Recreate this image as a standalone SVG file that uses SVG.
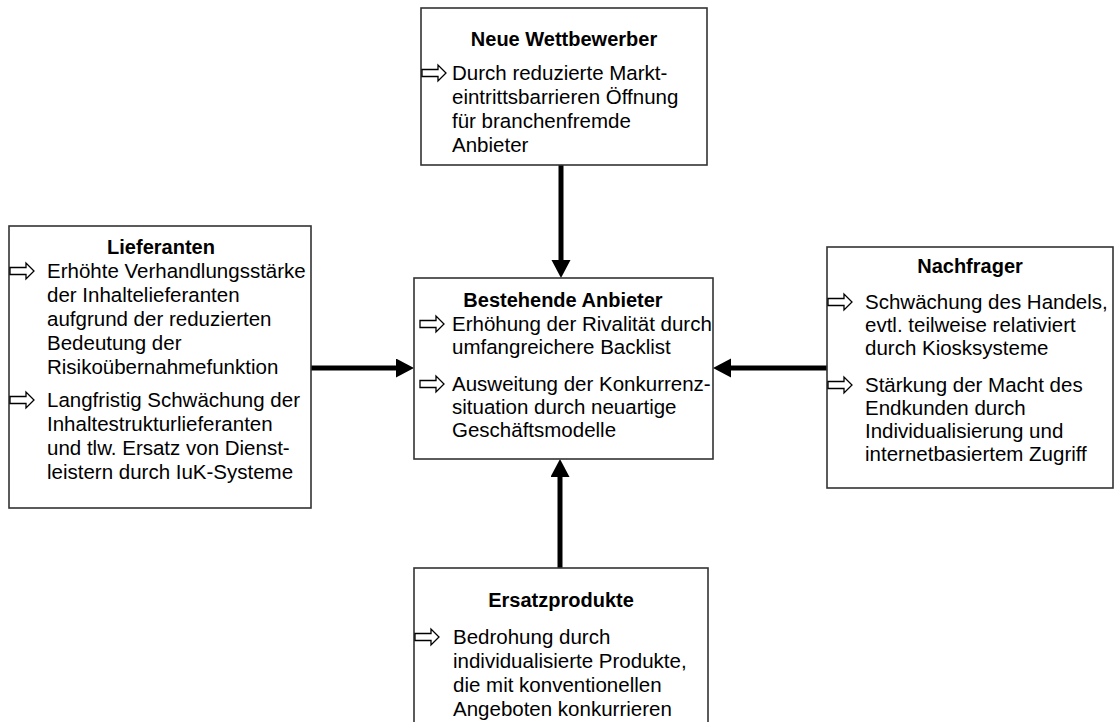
<svg xmlns="http://www.w3.org/2000/svg" xmlns:xlink="http://www.w3.org/1999/xlink" width="1115" height="722" viewBox="0 0 1115 722">
  <style>
    .box { fill: #ffffff; stroke: #333333; stroke-width: 1.6; }
    .title { font-family: "Liberation Sans", Arial, sans-serif; font-size: 20px; font-weight: bold; fill: #000000; text-anchor: middle; }
    .body { font-family: "Liberation Sans", Arial, sans-serif; font-size: 20.5px; fill: #000000; }
    .flow { stroke: #000000; stroke-width: 5; fill: none; marker-end: url(#head); }
  </style>
  <defs>
    <marker id="head" markerUnits="userSpaceOnUse" markerWidth="20" markerHeight="20" refX="0" refY="9.5" orient="auto">
      <path d="M0,0 L18,9.5 L0,19 Z" fill="#000000"/>
    </marker>
    <!-- white block-arrow bullet, origin at its left middle -->
    <symbol id="bullet" overflow="visible">
      <path d="M1,-3.5 H17 V-8 L25,0 L17,8 V3.5 H1 Z" fill="#ffffff" stroke="#000000" stroke-width="1.3" stroke-linejoin="miter"/>
    </symbol>
  </defs>

  <rect width="1115" height="722" fill="#ffffff"/>

  <!-- connectors -->
  <g id="connectors">
    <line class="flow" x1="561" y1="165" x2="561" y2="260"/>
    <line class="flow" x1="311" y1="368" x2="396" y2="368"/>
    <line class="flow" x1="827" y1="368" x2="731" y2="368"/>
    <line class="flow" x1="560" y1="568" x2="560" y2="477"/>
  </g>

  <!-- new competitors -->
  <g id="neue-wettbewerber">
    <rect class="box" x="421" y="8" width="286" height="157"/>
    <text class="title" x="564" y="46">Neue Wettbewerber</text>
    <use xlink:href="#bullet" x="421" y="73"/>
    <text class="body" x="452" y="80">Durch reduzierte Markt-</text>
    <text class="body" x="452" y="104">eintrittsbarrieren Öffnung</text>
    <text class="body" x="452" y="128">für branchenfremde</text>
    <text class="body" x="452" y="152">Anbieter</text>
  </g>

  <!-- suppliers -->
  <g id="lieferanten">
    <rect class="box" x="9" y="226" width="302" height="282"/>
    <text class="title" x="161" y="254">Lieferanten</text>
    <use xlink:href="#bullet" x="9" y="271"/>
    <text class="body" x="47" y="278">Erhöhte Verhandlungsstärke</text>
    <text class="body" x="47" y="302">der Inhaltelieferanten</text>
    <text class="body" x="47" y="326">aufgrund der reduzierten</text>
    <text class="body" x="47" y="350">Bedeutung der</text>
    <text class="body" x="47" y="374">Risikoübernahmefunktion</text>
    <use xlink:href="#bullet" x="9" y="400"/>
    <text class="body" x="47" y="407">Langfristig Schwächung der</text>
    <text class="body" x="47" y="431">Inhaltestrukturlieferanten</text>
    <text class="body" x="47" y="455">und tlw. Ersatz von Dienst-</text>
    <text class="body" x="47" y="479">leistern durch IuK-Systeme</text>
  </g>

  <!-- existing providers -->
  <g id="bestehende-anbieter">
    <rect class="box" x="414" y="278" width="299" height="181"/>
    <text class="title" x="563" y="307">Bestehende Anbieter</text>
    <use xlink:href="#bullet" x="419" y="324"/>
    <text class="body" x="452" y="331">Erhöhung der Rivalität durch</text>
    <text class="body" x="452" y="354">umfangreichere Backlist</text>
    <use xlink:href="#bullet" x="419" y="384"/>
    <text class="body" x="452" y="391">Ausweitung der Konkurrenz-</text>
    <text class="body" x="452" y="414">situation durch neuartige</text>
    <text class="body" x="452" y="437">Geschäftsmodelle</text>
  </g>

  <!-- buyers -->
  <g id="nachfrager">
    <rect class="box" x="827" y="247" width="286" height="241"/>
    <text class="title" x="970" y="273">Nachfrager</text>
    <use xlink:href="#bullet" x="827" y="302"/>
    <text class="body" x="865" y="309">Schwächung des Handels,</text>
    <text class="body" x="865" y="332">evtl. teilweise relativiert</text>
    <text class="body" x="865" y="355">durch Kiosksysteme</text>
    <use xlink:href="#bullet" x="827" y="385"/>
    <text class="body" x="865" y="392">Stärkung der Macht des</text>
    <text class="body" x="865" y="415">Endkunden durch</text>
    <text class="body" x="865" y="438">Individualisierung und</text>
    <text class="body" x="865" y="461">internetbasiertem Zugriff</text>
  </g>

  <!-- substitute products -->
  <g id="ersatzprodukte">
    <rect class="box" x="414" y="568" width="294" height="170"/>
    <text class="title" x="561" y="607">Ersatzprodukte</text>
    <use xlink:href="#bullet" x="414" y="637"/>
    <text class="body" x="453" y="644">Bedrohung durch</text>
    <text class="body" x="453" y="668">individualisierte Produkte,</text>
    <text class="body" x="453" y="692">die mit konventionellen</text>
    <text class="body" x="453" y="716">Angeboten konkurrieren</text>
  </g>
</svg>
